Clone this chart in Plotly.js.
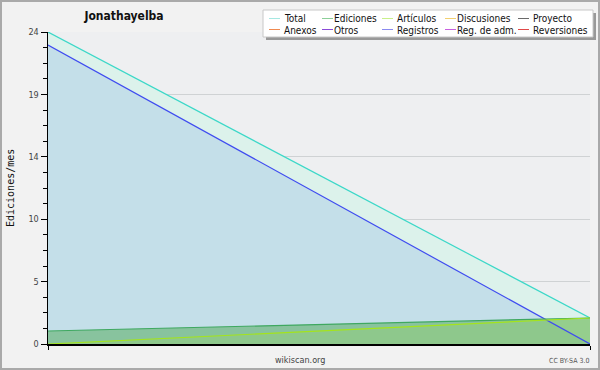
<!DOCTYPE html>
<html>
<head>
<meta charset="utf-8">
<script src="https://cdn.plot.ly/plotly-3.0.1.min.js"></script>
<style>html,body{margin:0;padding:0;background:#f2f2f2;}#chart{width:600px;height:370px;}</style>
</head>
<body>
<div id="chart"></div>
<script>
// ---- data ----
const meses = ['2019-01', '2019-02'];
const total = [24, 2];
const ediciones = [1, 2];
const articulos = [0, 2];
const registros = [23, 0];

const yTickVals = [0, 4.8, 9.6, 14.4, 19.2, 24];
const yTickText = ['0', '5', '10', '14', '19', '24'];

const legendLabels = ['Total', 'Ediciones', 'Artículos', 'Discusiones', 'Proyecto',
                      'Anexos', 'Otros', 'Registros', 'Reg. de adm.', 'Reversiones'];
const legendColors = ['#a6e8e2', '#8ccf98', '#c8f08a', '#f2d070', '#6a6a6a',
                      '#f08a50', '#8a4ad8', '#8a8af0', '#c860e0', '#e04848'];

// ---- layout geometry ----
const W = 600, H = 370, L = 48, R = 10, T = 32, B = 26;
const PW = W - L - R, PH = H - T - B;
const px = x => (x - L) / PW;
const py = y => (H - B - y) / PH;
const COND = '"DejaVu Sans Condensed", "DejaVu Sans", sans-serif';

const fillTraces = [
  {y: total, fillcolor: '#dcf2eb'},
  {y: registros, fillcolor: '#c4dfe9'},
  {y: ediciones, fillcolor: 'rgba(104,179,118,0.65)'},
  {y: articulos, fillcolor: 'rgba(170,225,60,0.18)'}
].map(t => ({x: meses, y: t.y, type: 'scatter', mode: 'lines', fill: 'tozeroy',
  fillcolor: t.fillcolor, line: {width: 0}, hoverinfo: 'skip', showlegend: false}));

const lineTraces = [
  {y: total, color: '#3cd8c8'},
  {y: registros, color: '#3f4cf0'},
  {y: ediciones, color: '#3fa860'},
  {y: articulos, color: '#a4e41c'}
].map(t => ({x: meses, y: t.y, type: 'scatter', mode: 'lines',
  line: {color: t.color, width: 1.2}, hoverinfo: 'skip', showlegend: false}));

// legend drawn manually
const lineX = [269, 322, 382, 445, 518];
const textX = [284, 334, 397, 457, 533];
const rowY = [19, 30];
const shapes = [];
const annotations = [];

// outer border
shapes.push({type: 'rect', xref: 'paper', yref: 'paper',
  x0: px(1), x1: px(599), y0: py(369), y1: py(1),
  line: {color: '#aaaaaa', width: 2}, fillcolor: 'rgba(0,0,0,0)', layer: 'below'});
// legend shadow & box
shapes.push({type: 'rect', xref: 'paper', yref: 'paper',
  x0: px(266), x1: px(596), y0: py(40), y1: py(13),
  line: {width: 0}, fillcolor: '#999999'});
shapes.push({type: 'rect', xref: 'paper', yref: 'paper',
  x0: px(263), x1: px(593), y0: py(37), y1: py(10),
  line: {color: '#c8c8c8', width: 1}, fillcolor: '#ffffff'});

legendLabels.forEach((lab, i) => {
  const c = i % 5, r = Math.floor(i / 5);
  shapes.push({type: 'line', xref: 'paper', yref: 'paper',
    x0: px(lineX[c]), x1: px(lineX[c] + 11), y0: py(rowY[r] - 0.5), y1: py(rowY[r] - 0.5),
    line: {color: legendColors[i], width: 1}});
  annotations.push({xref: 'paper', yref: 'paper', x: px(textX[c] - 2), y: py(rowY[r]),
    xanchor: 'left', yanchor: 'middle', showarrow: false, text: lab,
    font: {family: COND, size: 10, color: '#111'}});
});

annotations.push({xref: 'paper', yref: 'paper', x: px(10), y: py(188),
  textangle: -90, xanchor: 'center', yanchor: 'middle', showarrow: false,
  text: 'Ediciones/mes', font: {family: 'DejaVu Sans Mono', size: 10, color: '#111'}});
annotations.push({xref: 'paper', yref: 'paper', x: px(300), y: py(360),
  xanchor: 'center', yanchor: 'middle', showarrow: false,
  text: 'wikiscan.org', font: {family: COND, size: 9, color: '#444'}});
annotations.push({xref: 'paper', yref: 'paper', x: px(591), y: py(361),
  xanchor: 'right', yanchor: 'middle', showarrow: false,
  text: 'CC BY-SA 3.0', font: {family: COND, size: 7, color: '#555'}});

const layout = {
  width: W, height: H,
  margin: {l: L, r: R, t: T, b: B, pad: 0},
  paper_bgcolor: '#f2f2f2',
  plot_bgcolor: '#eeeff1',
  showlegend: false,
  title: {text: '<b>Jonathayelba</b>', x: 124 / W, xanchor: 'center',
    y: 1 - 16 / H, yanchor: 'middle',
    font: {family: COND, size: 12, color: '#111'}},
  xaxis: {type: 'category', range: [0, 1], showgrid: false, zeroline: false,
    showline: true, linecolor: '#000', linewidth: 1.5,
    ticks: 'outside', ticklen: 4, tickcolor: '#000', showticklabels: false},
  yaxis: {range: [0, 24], tickmode: 'array', tickvals: yTickVals, ticktext: yTickText,
    showgrid: true, gridcolor: '#cfd2d4', gridwidth: 1, zeroline: false,
    showline: true, linecolor: '#000', linewidth: 1.5,
    ticks: 'outside', ticklen: 6, tickcolor: '#000',
    tickfont: {family: COND, size: 9, color: '#444'},
    minor: {tickmode: 'linear', tick0: 0, dtick: 1.2, ticks: 'outside', ticklen: 4,
      tickcolor: '#000', showgrid: false}},
  shapes: shapes,
  annotations: annotations
};

Plotly.newPlot('chart', fillTraces.concat(lineTraces), layout, {staticPlot: true});
</script>
</body>
</html>
